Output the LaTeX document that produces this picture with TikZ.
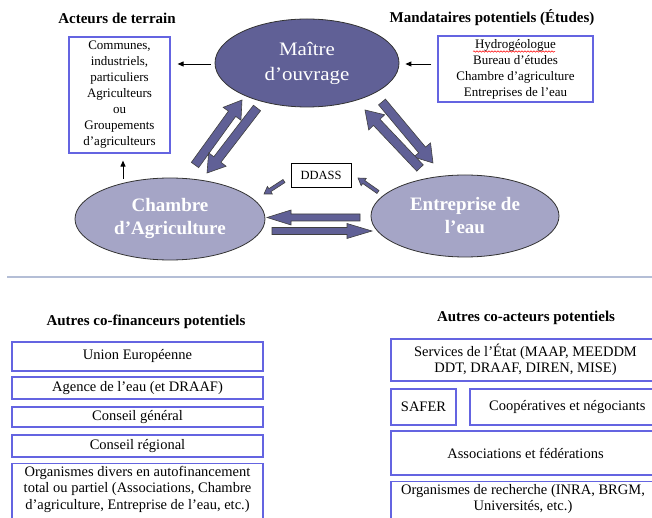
\documentclass[tikz,border=0pt]{standalone}
\usepackage{fontspec}
\setmainfont{Liberation Serif}
\newfontfamily\wideserif[FakeStretch=1.1]{Liberation Serif}
\usetikzlibrary{calc,shapes.geometric,arrows.meta,decorations.pathmorphing}
\definecolor{dkpurple}{RGB}{96,96,150}
\definecolor{ltpurple}{RGB}{165,165,198}
\definecolor{boxblue}{RGB}{100,100,225}
\definecolor{sepblue}{RGB}{180,190,214}
\newcommand\blockarrow[5]{%
  \draw[fatstyle] let \p1=(#1), \p2=(#2), \n1={atan2(\y2-\y1,\x2-\x1)} in
   ($(#1)+(\n1+90:#3)$) -- ($(#2)!#5!(#1)+(\n1+90:#3)$) -- ($(#2)!#5!(#1)+(\n1+90:#4)$)
   -- (#2) -- ($(#2)!#5!(#1)+(\n1-90:#4)$) -- ($(#2)!#5!(#1)+(\n1-90:#3)$)
   -- ($(#1)+(\n1-90:#3)$) -- cycle;}
\begin{document}
\begin{tikzpicture}[x=1pt,y=-1pt,
  title/.style={font=\fontsize{15}{18}\selectfont\bfseries, inner sep=0pt},
  topbox/.style={draw=boxblue, line width=1.2pt, align=center, inner sep=0pt,
    font=\fontsize{13}{16}\selectfont},
  frame/.style={draw=boxblue, line width=1.4pt, inner sep=0pt},
  bottext/.style={align=center, inner sep=0pt, font=\fontsize{14.5}{16.5}\selectfont},
  botbox/.style={frame, bottext},
  thinarr/.style={-{Triangle[length=6pt,width=5pt]}, line width=0.9pt},
  fatstyle/.style={fill=dkpurple, draw=black!75, line width=0.6pt, line join=miter},
  darkell/.style={ellipse, fill=dkpurple, draw=black!80, line width=0.8pt, inner sep=0pt,
    text=white, align=center, font=\wideserif\fontsize{19}{25}\selectfont},
  lightell/.style={ellipse, fill=ltpurple, draw=black!80, line width=0.8pt, inner sep=0pt,
    text=white, align=center, font=\fontsize{19}{23}\selectfont\bfseries}]
\useasboundingbox (0,0) rectangle (652,518);
\clip (0,0) rectangle (652,518);
\fill[white] (0,0) rectangle (652,518);

% titles
\node[title] (t1) at (117,18) {Acteurs de terrain};
\node[title] (t2) at (492,18) {Mandataires potentiels (Études)};
\node[title] (t3) at (146,322) {Autres co-financeurs potentiels};
\node[title] (t4) at (526,318) {Autres co-acteurs potentiels};

% top boxes
\node[topbox, minimum width=101, minimum height=116] (lb) at (119.5,95)
  {Communes,\\industriels,\\particuliers\\Agriculteurs\\ou\\Groupements\\d’agriculteurs};
\node[topbox, minimum width=155, minimum height=66] (rb) at (515.5,69)
  {Hydrogéologue\\Bureau d’études\\Chambre d’agriculture\\Entreprises de l’eau};
\draw[red, line width=0.5pt, decorate, decoration={snake, amplitude=0.7pt, segment length=3pt}]
  (473,51.5) -- (555,51.5);

% ellipses
\node[darkell, minimum width=184, minimum height=88] (mo) at (307,63) {Maître\\d’ouvrage};
\node[lightell, minimum width=190, minimum height=82] (ca) at (170,219) {Chambre\\d’Agriculture};
\node[lightell, minimum width=188, minimum height=82] (ee) at (465,216) {Entreprise de\\l’eau};
\node[draw=black, line width=0.7pt, minimum width=60, minimum height=24, inner sep=0pt,
  font=\fontsize{12.5}{14}\selectfont] (dd) at (321,175) {DDASS};

% thin arrows
\draw[thinarr] ($(mo.west)+(-4,1)$) -- ($(lb.east |- mo.west)+(7,1)$);
\draw[thinarr] ($(rb.west |- mo.east)+(-6,1)$) -- ($(mo.east)+(6,1)$);
\draw[thinarr] ($(lb.south)+(3.5,25)$) -- ($(lb.south)+(3.5,7)$);

% fat arrows
\coordinate (f1s) at (195,165); \coordinate (f1e) at (242,100);
\coordinate (f2s) at (257,108); \coordinate (f2e) at (207,173);
\coordinate (f3s) at (382,102); \coordinate (f3e) at (433,163);
\coordinate (f4s) at (420,168); \coordinate (f4e) at (365,110);
\coordinate (f5s) at (360,217.5); \coordinate (f5e) at (267,217.5);
\coordinate (f6s) at (272,231); \coordinate (f6e) at (372,231);
\coordinate (s1s) at (284,181); \coordinate (s1e) at (264,194);
\coordinate (s2s) at (378,192); \coordinate (s2e) at (358,178);
\blockarrow{f1s}{f1e}{4.5pt}{11pt}{17pt}
\blockarrow{f2s}{f2e}{4.5pt}{11pt}{17pt}
\blockarrow{f3s}{f3e}{4.5pt}{11pt}{17pt}
\blockarrow{f4s}{f4e}{4.5pt}{11pt}{17pt}
\blockarrow{f5s}{f5e}{3.5pt}{7.5pt}{24pt}
\blockarrow{f6s}{f6e}{3.5pt}{7.5pt}{25pt}
\blockarrow{s1s}{s1e}{1.8pt}{4.5pt}{7pt}
\blockarrow{s2s}{s2e}{1.8pt}{4.5pt}{7pt}

% separator
\coordinate (sepL) at (7,277); \coordinate (sepR) at (652,277);
\draw[sepblue, line width=2.5pt] (sepL) -- (sepR);

% bottom left boxes
\node[botbox, minimum width=251, minimum height=29] (b1) at (137.5,356.5) {Union Européenne};
\node[botbox, minimum width=251, minimum height=22] (b2) at (137.5,388) {Agence de l’eau (et DRAAF)};
\node[botbox, minimum width=251, minimum height=20] (b3) at (137.5,417) {Conseil général};
\node[botbox, minimum width=251, minimum height=22] (b4) at (137.5,446) {Conseil régional};
\node[frame, minimum width=251, minimum height=64, anchor=north] (b5) at (137.5,463) {};
\node[bottext] (b5t) at (137.5,489) {Organismes divers en autofinancement\\total ou partiel (Associations, Chambre\\d’agriculture, Entreprise de l’eau, etc.)};

% bottom right boxes
\node[botbox, minimum width=269, minimum height=42] (r1) at (525.5,360)
  {Services de l’État (MAAP, MEEDDM\\DDT, DRAAF, DIREN, MISE)};
\node[botbox, minimum width=65, minimum height=36] (r2) at (423.5,407) {SAFER};
\node[frame, minimum width=190, minimum height=36] (r3) at (565,407) {};
\node[bottext, anchor=west] (r3t) at (489,407) {Coopératives et négociants};
\node[botbox, minimum width=269, minimum height=44] (r4) at (525.5,453) {Associations et fédérations};
\node[frame, minimum width=269, minimum height=60, anchor=north] (r5) at (525.5,481) {};
\node[bottext] (r5t) at (523,499) {Organismes de recherche (INRA, BRGM,\\Universités, etc.)};
\end{tikzpicture}
\end{document}
